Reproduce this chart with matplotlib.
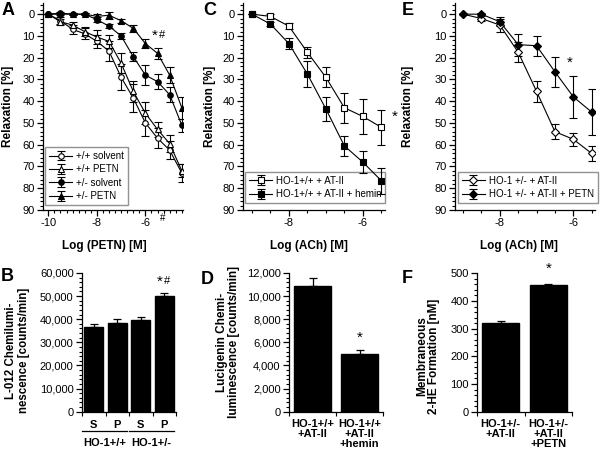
import numpy as np
import matplotlib
matplotlib.use('Agg')
import matplotlib.pyplot as plt
from matplotlib.ticker import MultipleLocator, FuncFormatter

plt.rcParams['font.family'] = ['Liberation Sans', 'DejaVu Sans']
plt.rcParams['axes.unicode_minus'] = False

# ---------------- data ----------------
# Panel A: PETN concentration-response
petn_logc = [-10, -9.5, -9, -8.5, -8, -7.5, -7, -6.5, -6, -5.5, -5, -4.5]
wt_solvent = [0, 3, 7, 9, 12.5, 17, 29, 38.5, 50, 57, 62.5, 73]
wt_solvent_err = [0, 1.5, 2, 2.5, 3, 4.5, 6, 6.5, 6, 4.5, 4, 4]
wt_petn = [0, 3.5, 5, 8, 10.5, 12.5, 22.5, 35.5, 45.5, 53, 59.5, 72]
wt_petn_err = [0, 1.5, 1.5, 2, 3, 3, 4.5, 5, 5, 3.5, 4, 3]
het_solvent = [0, -0.5, 0, 0, 2.5, 5.5, 10, 19.5, 28, 31, 37, 51]
het_solvent_err = [0, 0.5, 0.5, 0.5, 1, 1, 1.5, 2, 4.5, 3.5, 3.5, 3]
het_petn = [0, 0, 0, 0, 1, 0.5, 3, 6.5, 13.5, 18, 28, 43]
het_petn_err = [0, 0.5, 0.5, 0.5, 1, 1.5, 1, 1.5, 2, 2.5, 3.5, 5]
labels_A = ['+/+ solvent', '+/+ PETN', '+/- solvent', '+/- PETN']

# Panel B: L-012 chemiluminescence
cats_B = ['S', 'P', 'S', 'P']
groups_B = ['HO-1+/+', 'HO-1+/-']
vals_B = [36500, 38500, 39700, 50000]
errs_B = [1300, 1500, 1200, 1300]

# Panel C: ACh response
ach_logc = [-9, -8.5, -8, -7.5, -7, -6.5, -6, -5.5]
c_atii = [0, 1, 5.5, 17.5, 29, 43, 47, 52]
c_atii_err = [0, 1, 1.5, 2.5, 4.5, 7, 8, 8]
c_hemin = [0, 4.5, 13.5, 27.5, 43.5, 60.5, 68, 76.5]
c_hemin_err = [0, 1, 2.5, 6, 5.5, 4.5, 5, 6]
labels_C = ['HO-1+/+ + AT-II', 'HO-1+/+ + AT-II + hemin']

# Panel D: lucigenin chemiluminescence
cats_D = ['HO-1+/+\n+AT-II', 'HO-1+/+\n+AT-II\n+hemin']
vals_D = [10850, 4950]
errs_D = [700, 400]

# Panel E: ACh response HO-1 +/-
e_atii = [0, 2, 5, 17.5, 35.5, 54, 57.5, 64]
e_atii_err = [0, 1, 3, 4.5, 5, 3.5, 3, 3.5]
e_petn = [0, 0, 3.5, 14, 14.5, 26.5, 38, 45]
e_petn_err = [0, 0.5, 2, 5, 4.5, 7, 9.5, 10.5]
labels_E = ['HO-1 +/- + AT-II', 'HO-1 +/- + AT-II + PETN']

# Panel F: 2-HE formation
cats_F = ['HO-1+/-\n+AT-II', 'HO-1+/-\n+AT-II\n+PETN']
vals_F = [320, 459]
errs_F = [7, 4]

# ---------------- figure ----------------
W, H = 600, 455
fig = plt.figure(figsize=(6, 4.55), dpi=100)


def add_ax(l, r, t, b):
    return fig.add_axes([l / W, 1 - b / H, (r - l) / W, (b - t) / H])


def style(ax):
    for s in ('top', 'right'):
        ax.spines[s].set_visible(False)
    for s in ('left', 'bottom'):
        ax.spines[s].set_linewidth(0.9)
    ax.tick_params(which='major', direction='out', length=4, width=0.9,
                   labelsize=8, pad=2)
    ax.tick_params(which='minor', direction='out', length=2.2, width=0.8)


def letter(x, y, s):
    fig.text(x / W, 1 - y / H, s, fontsize=13, fontweight='bold',
             ha='left', va='top')


def curve_axes(ax, xlim, xmajor, xminor):
    style(ax)
    ax.set_ylim(90, -5)
    ax.set_xlim(*xlim)
    ax.yaxis.set_major_locator(MultipleLocator(10))
    ax.yaxis.set_minor_locator(MultipleLocator(2))
    ax.set_xticks(xmajor)
    ax.set_xticklabels([str(v) for v in xmajor])
    ax.xaxis.set_minor_locator(MultipleLocator(xminor))
    ax.set_ylabel('Relaxation [%]', fontsize=8.5, fontweight='bold', va='center')


def eb(ax, x, y, e, marker, mfc, ms, label):
    return ax.errorbar(x, y, yerr=e, fmt='-', marker=marker, color='black',
                       mfc=mfc, mec='black', ms=ms, lw=0.8, elinewidth=0.8,
                       capsize=2.8, capthick=0.8, mew=0.8, label=label)


def legend(ax, anchor):
    leg = ax.legend(loc='lower left', bbox_to_anchor=anchor, borderaxespad=0,
                    fontsize=7, frameon=True, fancybox=False, handlelength=2.4,
                    labelspacing=0.35, borderpad=0.4, handletextpad=0.4)
    leg.get_frame().set_edgecolor('#777777')
    leg.get_frame().set_linewidth(1.0)
    leg.set_zorder(1)


# ----- Panel A -----
axA = add_ax(43, 183, 3.3, 210)
curve_axes(axA, (-10.22, -4.45), [-10, -8, -6], 0.25)
eb(axA, petn_logc, wt_solvent, wt_solvent_err, 'o', 'white', 4, labels_A[0])
eb(axA, petn_logc, wt_petn, wt_petn_err, '^', 'white', 4.3, labels_A[1])
eb(axA, petn_logc, het_solvent, het_solvent_err, 'o', 'black', 4, labels_A[2])
eb(axA, petn_logc, het_petn, het_petn_err, '^', 'black', 4.3, labels_A[3])
axA.set_xlabel('Log (PETN) [M]', fontsize=8.5, fontweight='bold')
axA.xaxis.set_label_coords(0.44, -0.145)
axA.yaxis.set_label_coords(-0.25, 0.5)
axA.text(-5.62, 10, '*', fontsize=11, ha='center', va='center')
axA.text(-5.3, 9.5, '#', fontsize=8, ha='center', va='center')
axA.text(-5.3, 93.5, '#', fontsize=7, ha='center', va='center', clip_on=False)
legend(axA, (0.014, 0.024))
letter(2, 2, 'A')

# ----- Panel C -----
axC = add_ax(243, 385, 3.3, 210)
curve_axes(axC, (-9.24, -5.4), [-8, -6], 0.5)
eb(axC, ach_logc, c_atii, c_atii_err, 's', 'white', 5, labels_C[0])
eb(axC, ach_logc, c_hemin, c_hemin_err, 's', 'black', 5, labels_C[1])
axC.set_xlabel('Log (ACh) [M]', fontsize=8.5, fontweight='bold')
axC.xaxis.set_label_coords(0.465, -0.145)
axC.yaxis.set_label_coords(-0.232, 0.5)
axC.text(-5.15, 47, '*', fontsize=11, ha='center', va='center', clip_on=False)
legend(axC, (0.014, 0.034))
letter(203, 2, 'C')

# ----- Panel E -----
axE = add_ax(455, 595, 3.3, 210)
curve_axes(axE, (-9.22, -5.41), [-8, -6], 0.5)
eb(axE, ach_logc, e_atii, e_atii_err, 'D', 'white', 4, labels_E[0])
eb(axE, ach_logc, e_petn, e_petn_err, 'D', 'black', 4, labels_E[1])
axE.set_xlabel('Log (ACh) [M]', fontsize=8.5, fontweight='bold')
axE.xaxis.set_label_coords(0.457, -0.145)
axE.yaxis.set_label_coords(-0.336, 0.5)
axE.text(-6.1, 22.5, '*', fontsize=11, ha='center', va='center')
legend(axE, (0.02, 0.034))
letter(402, 2, 'E')

comma = FuncFormatter(lambda v, p: f'{int(v):,}')


def bar_axes(ax, ylim, major, minor, nbars):
    style(ax)
    ax.set_ylim(*ylim)
    ax.set_xlim(0, nbars)
    ax.yaxis.set_major_locator(MultipleLocator(major))
    ax.yaxis.set_minor_locator(MultipleLocator(minor))
    ax.yaxis.set_major_formatter(comma)
    ax.set_xticks(np.arange(nbars) + 0.5)
    ax.set_xticks(np.arange(nbars + 1), minor=True)
    ax.tick_params(axis='x', which='major', length=0)
    ax.tick_params(axis='x', which='minor', length=3)


def bars(ax, vals, errs, width):
    x = np.arange(len(vals)) + 0.5
    ax.bar(x, vals, width=width, color='black', edgecolor='black')
    ax.errorbar(x, vals, yerr=[np.zeros(len(errs)), errs], fmt='none',
                ecolor='black', elinewidth=0.9, capsize=3, capthick=0.9)


# ----- Panel B -----
axB = add_ax(82, 176, 273, 411.7)
bar_axes(axB, (0, 60000), 10000, 2000, 4)
bars(axB, vals_B, errs_B, 0.8)
axB.set_xticklabels(cats_B, fontsize=8, fontweight='bold')
axB.tick_params(axis='x', which='major', pad=6)
trB = axB.get_xaxis_transform()
for i, g in enumerate(groups_B):
    x0, x1 = 2 * i + 0.02, 2 * i + 1.9
    axB.plot([x0, x1], [-0.139, -0.139], color='black', lw=0.9,
             transform=trB, clip_on=False)
    axB.text(2 * i + 0.95, -0.227, g, fontsize=8, fontweight='bold',
             ha='center', va='center', transform=trB)
axB.set_ylabel('L-012 Chemilumi-\nnescence [counts/min]', fontsize=8.3,
               fontweight='bold', va='center', linespacing=1.05)
axB.yaxis.set_label_coords(-0.686, 0.44)
axB.text(3.3, 56000, '*', fontsize=11, ha='center', va='center')
axB.text(3.62, 56500, '#', fontsize=8, ha='center', va='center')
letter(1, 268, 'B')

# ----- Panel D -----
axD = add_ax(289, 383, 273, 411.7)
bar_axes(axD, (0, 12000), 2000, 400, 2)
bars(axD, vals_D, errs_D, 0.78)
axD.set_xticklabels(cats_D, fontsize=8, fontweight='bold', linespacing=1.05)
axD.tick_params(axis='x', which='major', pad=5)
axD.set_ylabel('Lucigenin Chemi-\nluminescence [counts/min]', fontsize=8.5,
               fontweight='bold', va='center', linespacing=1.05)
axD.yaxis.set_label_coords(-0.65, 0.5)
axD.text(1.5, 6400, '*', fontsize=11, ha='center', va='center')
letter(201, 271, 'D')

# ----- Panel F -----
axF = add_ax(477, 572, 273.3, 411.7)
bar_axes(axF, (0, 500), 100, 20, 2)
bars(axF, vals_F, errs_F, 0.78)
axF.set_xticklabels(cats_F, fontsize=8, fontweight='bold', linespacing=1.05)
axF.tick_params(axis='x', which='major', pad=5)
axF.set_ylabel('Membraneous\n2-HE Formation [nM]', fontsize=8.5,
               fontweight='bold', va='center', linespacing=1.05)
axF.yaxis.set_label_coords(-0.516, 0.40)
axF.text(1.5, 515, '*', fontsize=11, ha='center', va='center', clip_on=False)
letter(402, 270, 'F')

fig.savefig('out.png', dpi=100)
